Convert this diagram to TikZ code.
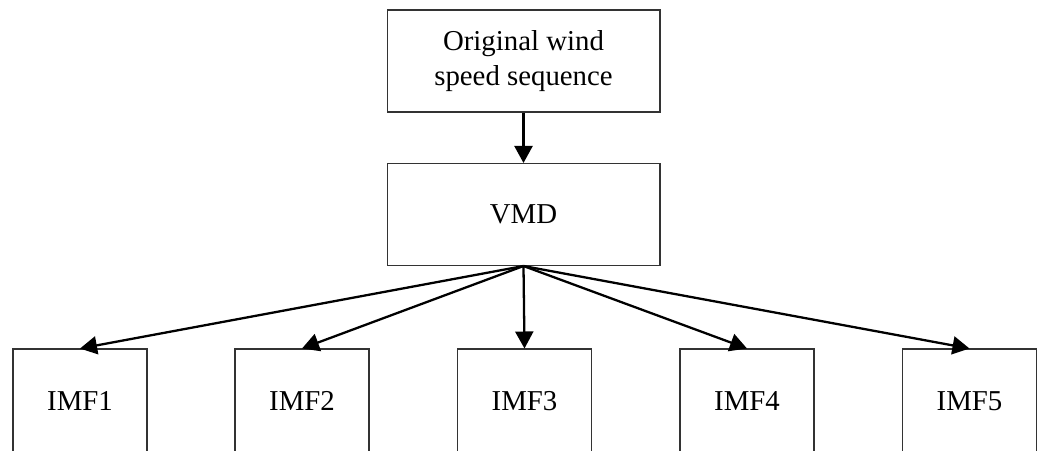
\documentclass[tikz,border=0pt]{standalone}
\usepackage{fontspec}
\setmainfont{Liberation Serif}
\usetikzlibrary{arrows.meta,positioning}

\tikzset{
  blockbox/.style={draw=black!80, line width=0.6pt, align=center,
    font=\fontsize{16.4}{19.6}\selectfont, inner sep=0pt},
  bigbox/.style={blockbox, minimum width=5.46cm, minimum height=2.04cm},
  imfbox/.style={blockbox, minimum width=2.68cm, minimum height=2.08cm},
  flow/.style={-{Triangle[length=0.34cm,width=0.36cm]}, line width=1.3pt}
}

\begin{document}
\begin{tikzpicture}[x=0.02cm,y=-0.02cm]
\useasboundingbox (0,0) rectangle (1042,450);
\clip (0,0) rectangle (1042,450);

% input and decomposition
\node[bigbox] (orig) at (523.5,61) {Original wind\\speed sequence};
\node[bigbox] (vmd) at (523.5,214.5) {VMD};

% modes
\node[imfbox] (imf1) at (80,401) {IMF1};
\node[imfbox] (imf2) at (302,401) {IMF2};
\node[imfbox] (imf3) at (524.5,401) {IMF3};
\node[imfbox] (imf4) at (747,401) {IMF4};
\node[imfbox] (imf5) at (969.5,401) {IMF5};

% arrows
\draw[flow] (orig.south) -- (vmd.north);
\foreach \k in {1,...,5}
  \draw[flow] (vmd.south) -- (imf\k.north);
\end{tikzpicture}
\end{document}
